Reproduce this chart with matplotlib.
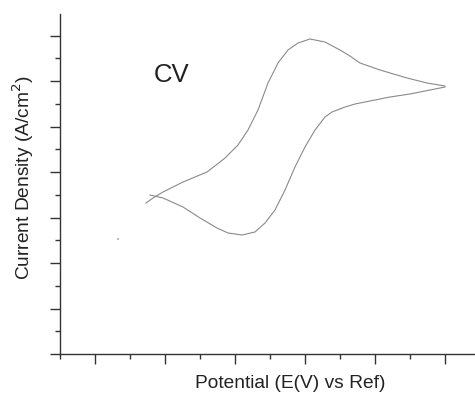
import matplotlib
matplotlib.use("Agg")
import matplotlib.pyplot as plt
from matplotlib.ticker import MultipleLocator, NullFormatter

# Forward (anodic) scan
fwd_x = [2.457, 2.657, 2.943, 3.514, 4.200, 4.571, 4.714, 5.086, 5.371, 5.657, 5.943, 6.229,
         6.514, 6.800, 7.143, 7.571, 8.000, 8.286, 8.571, 9.143, 9.914, 10.486, 11.000]
fwd_y = [6.637, 6.857, 7.121, 7.560, 8.000, 8.440, 8.615, 9.187, 9.846, 10.725, 11.912, 12.791,
         13.363, 13.670, 13.846, 13.714, 13.363, 13.099, 12.791, 12.484, 12.132, 11.912, 11.780]

# Reverse (cathodic) scan
rev_x = [11.000, 10.571, 10.000, 9.429, 8.857, 8.429, 8.143, 7.771, 7.571, 7.286, 7.000, 6.714,
         6.429, 6.143, 5.857, 5.571, 5.200, 4.800, 4.486, 4.000, 3.514, 2.943, 2.571]
rev_y = [11.736, 11.604, 11.429, 11.297, 11.121, 10.989, 10.857, 10.637, 10.418, 9.846, 9.099, 8.220,
         7.209, 6.330, 5.758, 5.363, 5.231, 5.319, 5.538, 5.978, 6.462, 6.857, 6.989]

# Stray data point
stray_x = [1.657]
stray_y = [5.055]

plt.rcParams['font.family'] = ['Liberation Sans', 'DejaVu Sans']

fig = plt.figure(figsize=(4.75, 3.94), dpi=100)
ax = fig.add_axes([60/475, 40/394, 1 - 60/475, (354 - 14)/394])

ax.plot(fwd_x, fwd_y, color='#8a8a8a', lw=0.8)
ax.plot(rev_x, rev_y, color='#8a8a8a', lw=0.8)
ax.plot(stray_x, stray_y, 's', color='#bbbbbb', ms=1.5, mew=0)

ax.set_xlim(0, 415/35)
ax.set_ylim(0, 340/22.75)

ax.xaxis.set_major_locator(MultipleLocator(2, offset=1))
ax.xaxis.set_minor_locator(MultipleLocator(1))
ax.yaxis.set_major_locator(MultipleLocator(2))
ax.yaxis.set_minor_locator(MultipleLocator(1))
ax.xaxis.set_major_formatter(NullFormatter())
ax.yaxis.set_major_formatter(NullFormatter())

for s in ['top', 'right']:
    ax.spines[s].set_visible(False)
for s in ['left', 'bottom']:
    ax.spines[s].set_color('#333333')
    ax.spines[s].set_linewidth(1.0)

ax.tick_params(which='major', direction='out', length=7, width=1.0, color='#333333')
ax.tick_params(which='minor', direction='out', length=3.5, width=1.0, color='#333333')

fig.text(172/475, 1 - 75/394, 'CV', fontsize=18.5, color='#222222',
         ha='center', va='center')

fig.text(290/475, 1 - 384/394, 'Potential (E(V) vs Ref)', fontsize=13.8, color='#222222',
         ha='center', va='center')
fig.text(23/475, 1 - 178/394, 'Current Density (A/cm$^2$)', fontsize=13.8, color='#222222',
         ha='center', va='center', rotation=90)

fig.savefig('out.png', dpi=100)
